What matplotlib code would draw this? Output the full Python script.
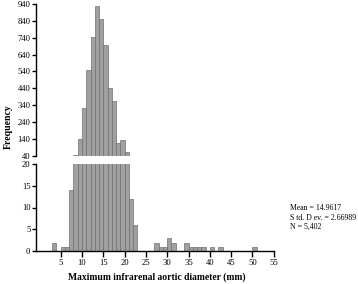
import matplotlib
matplotlib.use("Agg")
import matplotlib.pyplot as plt

plt.rcParams['font.family'] = ['Liberation Serif', 'DejaVu Serif']

# Histogram data: bin left edges (mm, width 1) and counts
bin_lefts = [3, 5, 6, 7, 8, 9, 10, 11, 12, 13, 14, 15, 16, 17, 18, 19, 20, 21, 22,
             27, 28, 29, 30, 31, 34, 35, 36, 37, 38, 40, 42, 50]
counts = [2, 1, 1, 14, 46, 137, 325, 546, 742, 930, 849, 697, 440, 364, 114, 133, 62, 12, 6,
          2, 1, 1, 3, 2, 2, 1, 1, 1, 1, 1, 1, 1]

upper_ticks = [40, 140, 240, 340, 440, 540, 640, 740, 840, 940]
lower_ticks = [0, 5, 10, 15, 20]
x_ticks = [5, 10, 15, 20, 25, 30, 35, 40, 45, 50, 55]
stats_lines = ["Mean = 14.9617", "S td. D ev. = 2.66989", "N = 5,402"]

W, H = 358, 284
fig = plt.figure(figsize=(W / 100, H / 100), dpi=100)

left = 36 / W
right = 273.7 / W
ax_up = fig.add_axes([left, 1 - 155.7 / H, right - left, (155.7 - 4) / H])
ax_lo = fig.add_axes([left, 1 - 251.3 / H, right - left, (251.3 - 163.7) / H])

face = '#a0a0a0'
edge = '#707070'
for ax in (ax_up, ax_lo):
    ax.bar(bin_lefts, counts, width=1, align='edge', color=face,
           edgecolor=edge, linewidth=0.5)
    ax.set_xlim(-0.8, 55)
    for s in ('top', 'right'):
        ax.spines[s].set_visible(False)
    ax.spines['left'].set_linewidth(1.0)
    ax.tick_params(axis='y', direction='out', length=3, width=1.0,
                   labelsize=6.2, pad=1)

ax_up.set_ylim(40, 940)
ax_up.set_yticks(upper_ticks)
ax_up.spines['bottom'].set_visible(False)
ax_up.tick_params(axis='x', bottom=False, labelbottom=False)

ax_lo.set_ylim(0, 20)
ax_lo.set_yticks(lower_ticks)
ax_lo.spines['bottom'].set_linewidth(1.0)
ax_lo.set_xticks(x_ticks)
ax_lo.tick_params(axis='x', direction='out', length=4, width=1.0,
                  labelsize=6.2, pad=1.5)

fig.text(157 / W, 1 - 277 / H, "Maximum infrarenal aortic diameter (mm)",
         ha='center', va='center', fontsize=6.9, fontweight='bold')
fig.text(8 / W, 1 - 127 / H, "Frequency", ha='center', va='center',
         rotation=90, fontsize=7.0, fontweight='bold')

for i, line in enumerate(stats_lines):
    fig.text(290 / W, 1 - (208 + i * 9.5) / H, line, ha='left', va='center',
             fontsize=5.6)

fig.savefig("out.png", dpi=100)
